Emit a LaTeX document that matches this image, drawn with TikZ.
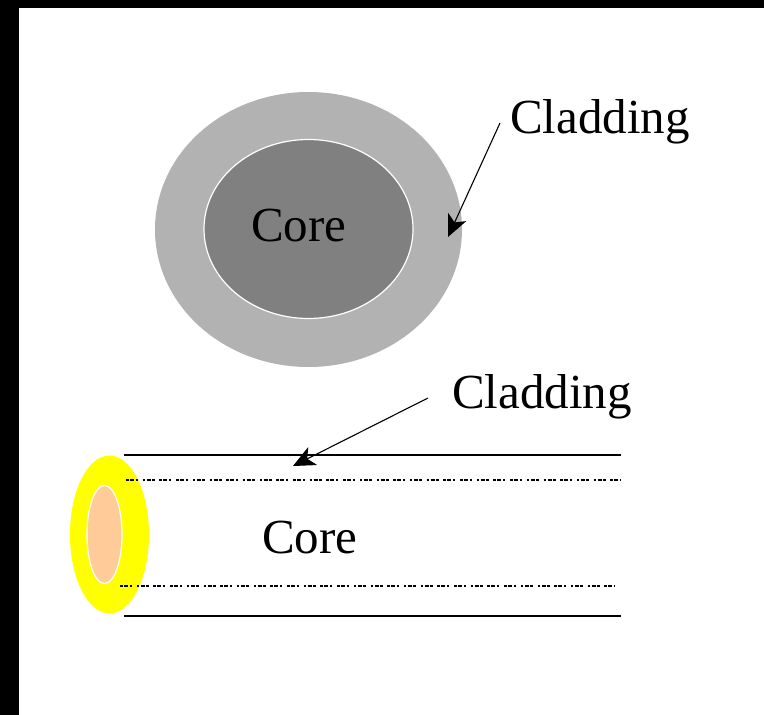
\documentclass[tikz,border=0pt]{standalone}
\usepackage{fontspec}
\setmainfont{Liberation Serif}
\usetikzlibrary{arrows.meta,shapes.geometric}
\definecolor{clad}{HTML}{B2B2B2}
\definecolor{corec}{HTML}{808080}
\definecolor{peach}{HTML}{FFCC99}
\definecolor{ylw}{HTML}{FFFF00}
\tikzset{
 lab/.style={inner sep=0pt,anchor=base west,font=\fontsize{49}{52}\selectfont,text=black},
 arr/.style={draw=black,line width=1.1pt,-{Stealth[length=22pt,width=20pt,inset=6pt]}},
 solidl/.style={draw=black,line width=1.1pt},
 dotl/.style={draw=black,line width=1.6pt,dash pattern=on 2.5pt off 1.5pt on 4pt off 1.5pt on 2.5pt off 4.7pt},
}
\begin{document}
\begin{tikzpicture}[x=1pt,y=-1pt]
\useasboundingbox (0,0) rectangle (764,715);
\fill[black] (0,0) rectangle (764,715);
\fill[white] (19,8) rectangle (764,715);
% top cross-section
\fill[clad] (308.5,229.5) ellipse [x radius=153.5,y radius=137.5];
\filldraw[fill=corec,draw=white,line width=1.2pt] (308.5,229) ellipse [x radius=104.5,y radius=89.5];
\node[lab] (core1) at (251,241) {Core};
\node[lab] (clad1) at (510,133) {Cladding};
\coordinate (a1s) at (500,123);
\coordinate (a1e) at (448,237);
\draw[arr] (a1s) -- (a1e);
% lower fibre
\fill[ylw] (109.5,534.5) ellipse [x radius=39.5,y radius=79];
\filldraw[fill=peach,draw=white,line width=1.2pt] (104.5,534.5) ellipse [x radius=17.5,y radius=49];
\coordinate (t1) at (124,455);
\coordinate (t2) at (621,455);
\coordinate (b1) at (124,616);
\coordinate (b2) at (621,616);
\coordinate (d1) at (126,480);
\coordinate (d2) at (620,480);
\coordinate (e1) at (120,586);
\coordinate (e2) at (615,586);
\draw[solidl] (t1) -- (t2);
\draw[solidl] (b1) -- (b2);
\draw[dotl,line width=1.1pt] (d1) -- (d2);
\draw[dotl] (e1) -- (e2);
\node[lab] (clad2) at (452,408) {Cladding};
\node[lab] (core2) at (262,553) {Core};
\coordinate (a2s) at (428,398);
\coordinate (a2e) at (293,466);
\draw[arr] (a2s) -- (a2e);
\end{tikzpicture}
\end{document}
